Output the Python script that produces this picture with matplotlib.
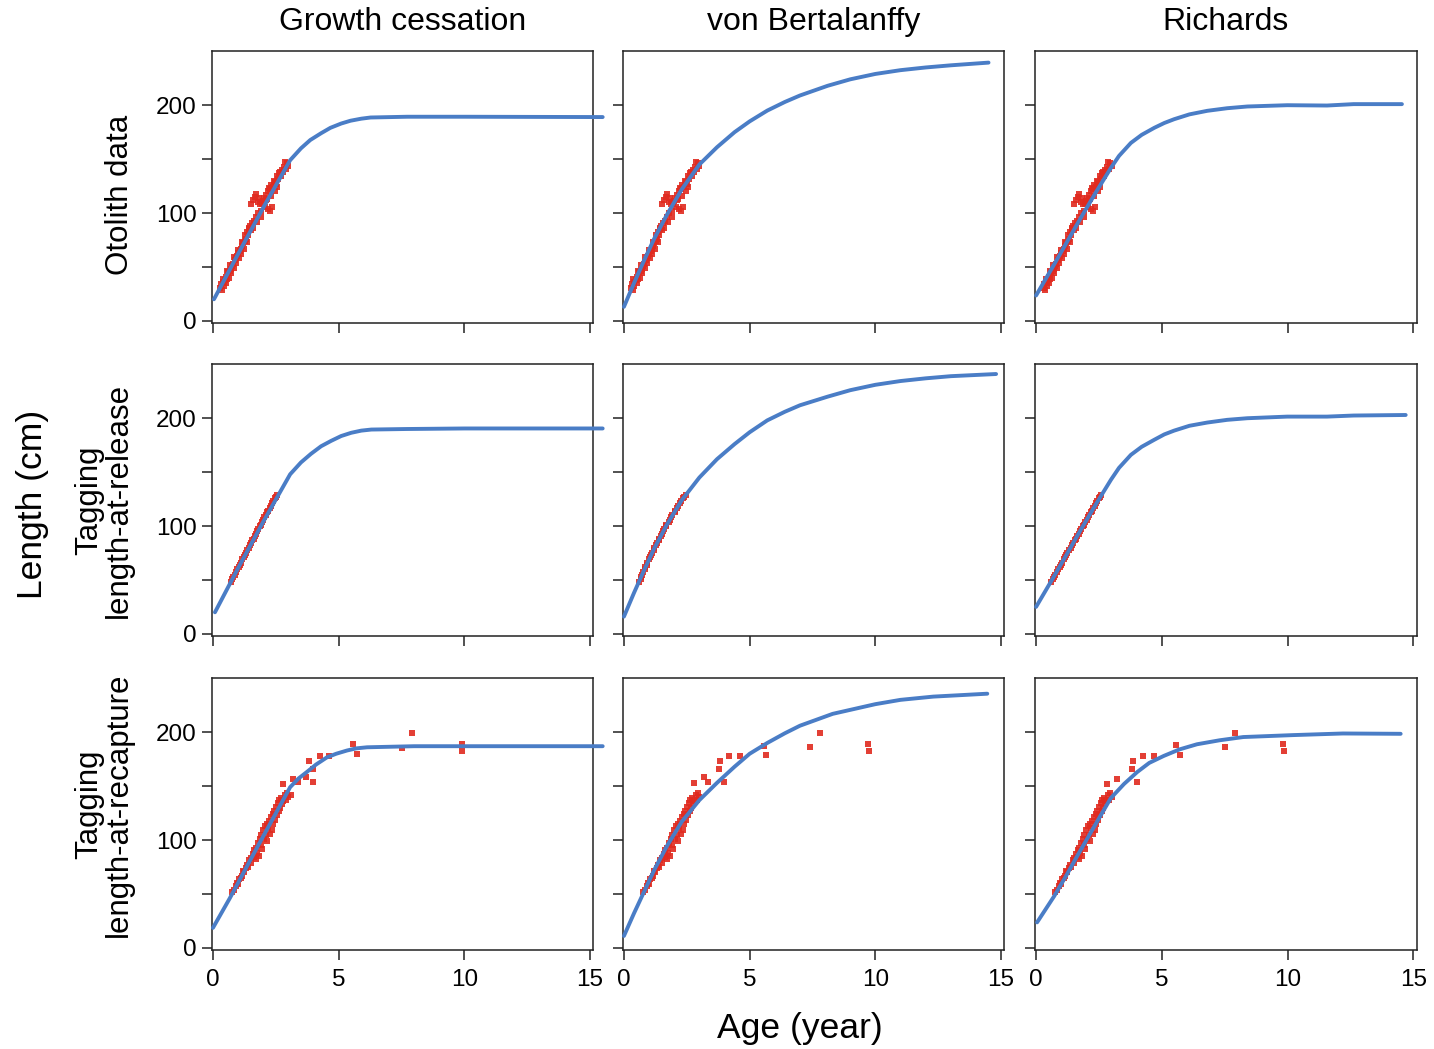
import numpy as np
import matplotlib.pyplot as plt

plt.rcParams['font.family'] = ['Liberation Sans', 'DejaVu Sans']

#-----------------------------------------------------------------------------
# column / row titles
models = ['Growth cessation', 'von Bertalanffy', 'Richards']
rows = ['Otolith data', 'Tagging\nlength-at-release', 'Tagging\nlength-at-recapture']

#-----------------------------------------------------------------------------
# fitted curves: curves[row][col] = (age, length)
gc1_x = [0.04, 1.0, 2.0, 3.07, 3.5, 3.87, 4.3, 4.67, 5.1, 5.47, 5.9, 6.27, 7.73, 10, 15.5]
gc1_y = [20, 62, 105, 149, 160, 167.7, 174, 179, 183, 185.6, 187.5, 188.6, 189.3, 189.3, 189]
gc2_x = [0.08, 1.0, 2.0, 3.07, 3.5, 3.9, 4.3, 4.7, 5.1, 5.5, 5.9, 6.3, 7.7, 10, 15.5]
gc2_y = [20, 61, 104, 148, 159, 167, 174, 179, 183.5, 186.5, 188.5, 189.5, 190, 190.5, 190.5]
gc3_x = [0.0, 0.67, 1.8, 3.07, 3.4, 3.73, 4.1, 4.53, 4.9, 5.33, 5.7, 6.13, 8, 15.5]
gc3_y = [18.5, 46, 95, 149, 157, 163, 170, 176.6, 180, 183, 185, 186, 187, 187]

vb1_x = [0, 0.4, 0.8, 1.2, 1.7, 2.3, 3.0, 3.7, 4.4, 5.0, 5.7, 6.4, 7.0, 8.1, 9.0, 10.0, 11.0, 12.0, 13.0, 14.5]
vb1_y = [13, 35, 56, 76, 98, 122, 145, 161, 175, 185, 195, 203, 209, 218, 224, 229, 232.5, 235, 237, 239.5]
vb2_x = [0, 0.4, 0.8, 1.2, 1.7, 2.3, 3.0, 3.7, 4.4, 5.0, 5.7, 6.4, 7.0, 8.1, 9.0, 10.0, 11.0, 12.0, 13.0, 14.8]
vb2_y = [16, 38, 59, 79, 101, 124, 145, 162, 176, 187, 198, 206, 212, 220, 226, 231, 234.5, 237, 239, 241]
vb3_x = [0, 0.4, 0.8, 1.2, 1.7, 2.3, 3.0, 3.7, 4.4, 5.0, 5.7, 6.4, 7.0, 8.3, 10.0, 11.0, 12.3, 13.5, 14.45]
vb3_y = [11, 32, 52, 72, 94, 117, 137, 153, 168, 180, 190, 199, 206, 217, 226, 230, 233, 234.5, 235.7]

ri1_x = [0, 0.73, 1.2, 1.79, 2.4, 2.98, 3.3, 3.77, 4.2, 4.7, 5.1, 5.49, 6.1, 6.81, 7.6, 8.4, 9.99, 11.57, 12.63, 14.55]
ri1_y = [23.5, 52.8, 72, 96, 120, 142, 153, 165, 172.5, 179, 183.5, 187, 191.5, 194.8, 197.2, 198.8, 200, 199.7, 201, 201]
ri2_x = [0, 0.73, 1.2, 1.79, 2.4, 2.98, 3.3, 3.77, 4.2, 4.7, 5.1, 5.49, 6.1, 6.81, 7.6, 8.4, 9.99, 11.57, 12.63, 14.7]
ri2_y = [25, 54, 73, 97, 121, 143, 154, 166, 173.5, 180, 185, 188.5, 193, 196, 198.5, 200, 201.5, 201.5, 202.5, 203]
ri3_x = [0.04, 0.72, 1.2, 1.65, 2.3, 2.97, 3.5, 4.02, 4.5, 5.08, 5.7, 6.4, 7.3, 8.24, 10.22, 12.2, 14.5]
ri3_y = [23.6, 47.9, 67, 85.7, 112, 138.8, 152, 163, 171.5, 178, 184, 188.8, 192.5, 195.5, 197.3, 198.8, 198.5]

#-----------------------------------------------------------------------------
# otolith data (same in all columns)
oto_age = [0.30, 0.33, 0.36, 0.40, 0.42, 0.46, 0.50, 0.52, 0.56, 0.60, 0.62, 0.66, 0.70, 0.72,
           0.76, 0.80, 0.82, 0.86, 0.90, 0.92, 0.96, 1.00, 1.02, 1.06, 1.10, 1.12, 1.16, 1.20,
           1.22, 1.26, 1.30, 1.34, 1.36, 1.40, 1.44, 1.46, 1.50, 1.52, 1.56, 1.58, 1.60, 1.64,
           1.66, 1.70, 1.72, 1.76, 1.78, 1.80, 1.84, 1.86, 1.90, 1.92, 1.96, 2.00, 2.02, 2.06,
           2.10, 2.14, 2.18, 2.20, 2.24, 2.26, 2.30, 2.32, 2.36, 2.40, 2.42, 2.46, 2.50, 2.54,
           2.56, 2.60, 2.64, 2.70, 2.74, 2.80, 2.84, 2.90, 2.96, 3.00,
           0.38, 0.54, 0.68, 0.84, 0.98, 1.14, 1.28, 1.42, 2.12, 2.28, 2.48, 2.66, 2.86]
oto_len = [30, 34, 29, 36, 32, 38, 35, 41, 39, 45, 40, 46, 48, 44,
           51, 53, 49, 56, 58, 54, 60, 63, 58, 65, 67, 62, 69, 72,
           67, 74, 76, 82, 73, 80, 85, 88, 84, 108, 91, 112, 86, 93,
           115, 96, 118, 92, 110, 100, 114, 108, 102, 96, 108, 111, 114, 106,
           117, 113, 120, 104, 123, 102, 116, 126, 106, 124, 130, 120, 127, 134,
           124, 132, 137, 134, 140, 138, 143, 141, 146, 144,
           39, 46, 52, 59, 66, 73, 80, 86, 112, 122, 129, 138, 147]

# length at release (lengths shared, ages depend on the model)
rel_len = [48, 51, 53, 55, 57, 60, 62, 64, 66, 69, 71, 73, 75, 78, 80, 82, 84,
           87, 88, 91, 93, 95, 97, 100, 101, 104, 106, 108, 110, 113, 114, 117,
           119, 121, 123, 126, 127, 129]
rel_age_gc = [0.70, 0.77, 0.80, 0.87, 0.91, 0.97, 1.03, 1.06, 1.12, 1.17, 1.23, 1.26,
              1.32, 1.37, 1.43, 1.46, 1.52, 1.57, 1.62, 1.66, 1.72, 1.75, 1.81, 1.86,
              1.90, 1.95, 2.01, 2.04, 2.10, 2.15, 2.20, 2.25, 2.31, 2.34, 2.40, 2.45,
              2.51, 2.55]
rel_age_vb = [0.58, 0.66, 0.68, 0.73, 0.75, 0.83, 0.85, 0.91, 0.93, 1.01, 1.03, 1.09,
              1.11, 1.19, 1.21, 1.28, 1.30, 1.39, 1.39, 1.48, 1.51, 1.57, 1.60, 1.69,
              1.69, 1.79, 1.82, 1.89, 1.92, 2.02, 2.03, 2.13, 2.16, 2.23, 2.26, 2.36,
              2.38, 2.45]
rel_age_ri = [0.60, 0.67, 0.72, 0.77, 0.82, 0.89, 0.94, 0.99, 1.03, 1.11, 1.15, 1.20,
              1.25, 1.32, 1.37, 1.42, 1.47, 1.54, 1.57, 1.64, 1.69, 1.74, 1.79, 1.86,
              1.89, 1.96, 2.01, 2.06, 2.11, 2.18, 2.21, 2.28, 2.33, 2.38, 2.43, 2.50,
              2.53, 2.58]

# length at recapture: main cluster shared, a few older fish per model
rec_age = [0.75, 0.82, 0.90, 0.95, 1.00, 1.05, 1.10, 1.15, 1.20, 1.25, 1.30, 1.35, 1.40,
           1.45, 1.50, 1.52, 1.58, 1.62, 1.65, 1.70, 1.72, 1.76, 1.80, 1.84, 1.86, 1.90,
           1.92, 1.96, 2.00, 2.04, 2.06, 2.10, 2.14, 2.16, 2.20, 2.24, 2.26, 2.30, 2.34,
           2.38, 2.40, 2.44, 2.48, 2.50, 2.54, 2.58, 2.62, 2.64, 2.68, 2.72, 2.76, 2.80,
           2.85, 2.90, 2.95, 3.00]
rec_len = [52, 54, 57, 60, 59, 64, 65, 67, 71, 70, 74, 77, 75,
           81, 83, 79, 87, 84, 91, 82, 93, 88, 97, 85, 101, 95,
           105, 92, 109, 101, 113, 105, 115, 99, 111, 118, 106, 121, 109,
           124, 115, 127, 119, 131, 123, 134, 127, 137, 130, 139, 133, 136,
           142, 137, 144, 140]
old_age_gc = [2.79, 3.12, 3.19, 3.39, 3.72, 3.83, 3.98, 3.98, 4.25, 4.6, 5.58, 5.71, 7.5, 7.93, 9.9, 9.9]
old_len_gc = [151.8, 141.8, 157, 154, 158.5, 173.6, 166, 154, 178, 178, 188.8, 179.7, 185.7, 199.4, 188.8, 182.7]
old_age_vb = [2.78, 3.17, 3.35, 3.77, 3.81, 3.97, 4.16, 4.63, 5.58, 5.65, 7.4, 7.8, 9.72, 9.76]
old_len_vb = [152.5, 158, 154, 166, 173.6, 154, 178, 178, 187.3, 179, 186.4, 199.4, 188.8, 182.7]
old_age_ri = [2.83, 3.2, 3.83, 3.87, 4.02, 4.26, 4.7, 5.58, 5.74, 7.52, 7.91, 9.83, 9.87]
old_len_ri = [151.8, 157, 166, 173.6, 153.4, 178, 178, 188, 179, 186.4, 199.4, 188.8, 182.7]

curves = [[(gc1_x, gc1_y), (vb1_x, vb1_y), (ri1_x, ri1_y)],
          [(gc2_x, gc2_y), (vb2_x, vb2_y), (ri2_x, ri2_y)],
          [(gc3_x, gc3_y), (vb3_x, vb3_y), (ri3_x, ri3_y)]]
points = [[(oto_age, oto_len)] * 3,
          [(rel_age_gc, rel_len), (rel_age_vb, rel_len), (rel_age_ri, rel_len)],
          [(rec_age + old_age_gc, rec_len + old_len_gc),
           (rec_age + old_age_vb, rec_len + old_len_vb),
           (rec_age + old_age_ri, rec_len + old_len_ri)]]

#-----------------------------------------------------------------------------
fig = plt.figure(figsize=(14.34, 10.49), dpi=100)
lefts = [0.1478, 0.4344, 0.7218]
bottoms = [0.6921, 0.3937, 0.0944]
w, h = 0.2660, 0.2590
blue = '#4a7dc6'
red = '#e02a1f'

for r in range(3):
    for c in range(3):
        ax = fig.add_axes([lefts[c], bottoms[r], w, h])
        px, py = points[r][c]
        ax.plot(px, py, 's', color=red, ms=4.3, mew=0, alpha=0.9, zorder=2)
        cx, cy = curves[r][c]
        ax.plot(cx, cy, color=blue, lw=2.8, solid_capstyle='round', clip_on=False, zorder=3)
        ax.set_xlim(-0.04, 15.13)
        ax.set_ylim(-2, 250)
        ax.set_xticks([0, 5, 10, 15])
        ax.set_yticks([0, 50, 100, 150, 200])
        ax.set_yticklabels(['0', '', '100', '', '200'] if c == 0 else [])
        if r < 2:
            ax.set_xticklabels([])
        ax.tick_params(direction='out', length=7, width=1.1, labelsize=17.5, color='#222222')
        ax.tick_params(axis='x', pad=7)
        ax.tick_params(axis='y', pad=4)
        for s in ax.spines.values():
            s.set_linewidth(1.1)
            s.set_color('#222222')
        if r == 0:
            ax.set_title(models[c], fontsize=23, pad=15)

fig.text(0.0837, 0.814, rows[0], rotation=90, ha='center', va='center', fontsize=22.5)
fig.text(0.0725, 0.523, rows[1], rotation=90, ha='center', va='center', fontsize=22.5,
         linespacing=1.0)
fig.text(0.0725, 0.233, rows[2], rotation=90, ha='center', va='center', fontsize=22.5,
         linespacing=1.0)
fig.text(0.023, 0.519, 'Length (cm)', rotation=90, ha='center', va='center', fontsize=25.5)
fig.text(0.558, 0.020, 'Age (year)', ha='center', va='center', fontsize=25.5)

fig.savefig('out.png', dpi=100)
